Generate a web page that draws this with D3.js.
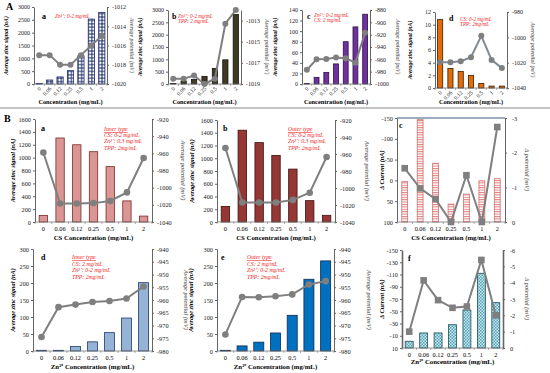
<!DOCTYPE html>
<html>
<head>
<meta charset="utf-8">
<script src="https://cdn.jsdelivr.net/npm/d3@7"></script>
<style>
body { margin: 0; background: #fff; }
svg { display: block; font-family: "Liberation Serif", "Times New Roman", serif; }
</style>
</head>
<body>
<svg width="550" height="373"></svg>
<script>
// categorias (concentração mg/mL)
const conc = ["0", "0.06", "0.12", "0.25", "0.5", "1", "2"];

// linha A
const aaSignal = [25, 155, 275, 520, 1100, 2530, 2790];
const aaPot = [-1017, -1017, -1018, -1018, -1017, -1016, -1015];
const abSignal = [20, 120, 180, 310, 630, 980, 2820];
const abPot = [-1018.5, -1018.5, -1018.2, -1019, -1018.5, -1013.3, -1012];
const acSignal = [1, 12.6, 22, 38, 80, 108, 132];
const acPot = [-977, -960, -959.5, -957, -958.4, -965.4, -916.8];
const adSignal = [10.8, 3.1, 2.6, 2.0, 0.7, 0.3, 0.3];
const adPot = [-1019.6, -1019.6, -1018.9, -1015.7, -998.8, -1017.8, -1024.3];

// linha B
const baSignal = [100, 1305, 1200, 1092, 860, 328, 92];
const baPot = [-959, -1018.5, -1018.5, -1018, -1015.5, -1005.5, -965.5];
const bbSignal = [245, 1440, 1245, 1045, 830, 335, 105];
const bbPot = [-953, -1017, -1017, -1017, -1014, -1005.5, -963.5];
const bcCurrent = [3, -146, -41, 57, 33, 1, -4];
const bcPot = [-1.55, -0.97, -0.66, 0, -1.35, 0, -2.74];
const bdSignal = [2, 2, 13, 27, 54, 97, 201];
const bdPot = [-974.5, -962.8, -961.8, -960.8, -960.4, -959.4, -954.7];
const beSignal = [2, 15, 26, 53, 105, 211, 265];
const bePot = [-973.5, -958.8, -958.9, -958.5, -957.8, -953.9, -952.6];
const bfCurrent = [-1, -14.6, -14.6, -28, -52, -112, -64];
const bfPot = [-1.0, -4.14, -2.93, -2.46, -2.54, -5.39, -2.0];

// ticks
const ticksA12 = [0, 500, 1000, 1500, 2000, 2500, 3000];
const ticksAaR = [-1020, -1018, -1016, -1014, -1012];
const ticksAbR = [-1019, -1017, -1015, -1013];
const ticksAcL = [0, 20, 40, 60, 80, 100, 120, 140];
const ticksAcR = [-1000, -980, -960, -940, -920, -900, -880];
const ticksAdL = [0, 2, 4, 6, 8, 10, 12];
const ticksAdR = [-1040, -1020, -1000, -980];
const ticksBabL = [0, 200, 400, 600, 800, 1000, 1200, 1400, 1600];
const ticksBabR = [-1040, -1020, -1000, -980, -960, -940, -920];
const ticksBcL = [-150, -100, -50, 0, 50, 100];
const ticksBcR = [-3, -2, -1, 0];
const ticksBdeL = [0, 50, 100, 150, 200, 250, 300];
const ticksBdeR = [-980, -975, -970, -965, -960, -955, -950, -945, -940];
const ticksBfL = [-150, -130, -110, -90, -70, -50, -30, -10, 10];
const ticksBfR = [-6, -5, -4, -3, -2, -1, 0];

const svg = d3.select("svg");
const defs = svg.append("defs");

// padrões das barras
const pDots = defs.append("pattern").attr("id", "dotsNavy").attr("patternUnits", "userSpaceOnUse")
  .attr("width", 3.4).attr("height", 3.4);
pDots.append("rect").attr("width", 3.4).attr("height", 3.4).attr("fill", "#1f2f6b");
pDots.append("rect").attr("x", 0.5).attr("y", 0.5).attr("width", 2.4).attr("height", 2.4).attr("fill", "#fff");

const pStripe = defs.append("pattern").attr("id", "stripeRed").attr("patternUnits", "userSpaceOnUse")
  .attr("width", 4).attr("height", 2.4);
pStripe.append("rect").attr("width", 4).attr("height", 2.4).attr("fill", "#fff");
pStripe.append("rect").attr("y", 0).attr("width", 4).attr("height", 1).attr("fill", "#e07c7c");

const pCheck = defs.append("pattern").attr("id", "checkTeal").attr("patternUnits", "userSpaceOnUse")
  .attr("width", 3).attr("height", 3);
pCheck.append("rect").attr("width", 3).attr("height", 3).attr("fill", "#c6e6ee");
pCheck.append("rect").attr("width", 1.5).attr("height", 1.5).attr("fill", "#5aa5b8");
pCheck.append("rect").attr("x", 1.5).attr("y", 1.5).attr("width", 1.5).attr("height", 1.5).attr("fill", "#5aa5b8");

const fmt = d => String(d);

function panel(p) {
  const g = svg.append("g");
  const x = d3.scaleBand().domain(conc).range([p.x0, p.x1]);
  const yl = d3.scaleLinear().domain(p.ld).range([p.y1, p.y0]);
  const yr = d3.scaleLinear().domain(p.rd).range([p.y1, p.y0]);
  const cx = d => x(d) + x.bandwidth() / 2;
  const bw = x.bandwidth() * p.bw;

  if (p.frameTop) {
    g.append("line").attr("x1", p.x0).attr("x2", p.x1).attr("y1", p.y0).attr("y2", p.y0)
      .attr("stroke", p.frameTop).attr("stroke-width", 1.5);
  }

  // barras
  g.selectAll("rect.bar").data(p.bars).enter().append("rect")
    .attr("class", "bar")
    .attr("x", (d, i) => cx(conc[i]) - bw / 2)
    .attr("y", d => Math.min(yl(d), p.y1))
    .attr("width", bw)
    .attr("height", d => Math.abs(p.y1 - yl(d)))
    .attr("fill", p.fill)
    .attr("stroke", p.stroke)
    .attr("stroke-width", 0.8);

  // eixos
  const fs = p.fs;
  const axL = g.append("g").attr("transform", `translate(${p.x0},0)`)
    .call(d3.axisLeft(yl).tickValues(p.lt).tickSize(2).tickSizeOuter(0).tickPadding(2).tickFormat(fmt));
  const axR = g.append("g").attr("transform", `translate(${p.x1},0)`)
    .call(d3.axisRight(yr).tickValues(p.rt).tickSize(2).tickSizeOuter(0).tickPadding(p.rpad || 3).tickFormat(fmt));
  [axL, axR].forEach(a => {
    a.selectAll("text").attr("font-size", fs).attr("font-family", "Liberation Serif").attr("fill", "#222");
    a.selectAll("line").attr("stroke", "#666");
    a.select(".domain").attr("stroke", "#666").attr("stroke-width", p.axW || 1);
  });

  // eixo x
  g.append("line").attr("x1", p.x0).attr("x2", p.x1).attr("y1", p.y1).attr("y2", p.y1)
    .attr("stroke", "#777").attr("stroke-width", 0.8);
  g.selectAll("line.xt").data(d3.range(conc.length + 1)).enter().append("line")
    .attr("x1", i => p.x0 + i * x.bandwidth()).attr("x2", i => p.x0 + i * x.bandwidth())
    .attr("y1", p.y1).attr("y2", p.y1 + 2).attr("stroke", "#777").attr("stroke-width", 0.6);

  if (p.rotX) {
    g.selectAll("text.xl").data(conc).enter().append("text")
      .attr("transform", d => `translate(${cx(d) + 1},${p.y1 + 4}) rotate(-45)`)
      .attr("text-anchor", "end").attr("dy", "0.3em")
      .attr("font-size", fs - 0.5).text(d => d);
  } else {
    g.selectAll("text.xl").data(conc).enter().append("text")
      .attr("x", d => cx(d)).attr("y", p.y1 + 9)
      .attr("text-anchor", "middle").attr("font-size", fs).text(d => d);
  }
  g.append("text").attr("x", (p.x0 + p.x1) / 2).attr("y", p.xty)
    .attr("text-anchor", "middle").attr("font-size", p.tfs + 0.5).attr("font-weight", "bold")
    .text(p.xTitle);

  // títulos y
  const ym = (p.y0 + p.y1) / 2;
  g.append("text").attr("transform", `translate(${p.ltx},${ym}) rotate(-90)`)
    .attr("text-anchor", "middle").attr("dy", "0.35em").attr("font-size", p.tfs)
    .attr("font-weight", "bold").attr("font-style", "italic").text(p.lTitle);
  g.append("text").attr("transform", `translate(${p.rtx},${ym}) rotate(90)`)
    .attr("text-anchor", "middle").attr("dy", "0.35em").attr("font-size", p.tfs)
    .attr("font-weight", "bold").attr("font-style", "italic").attr("fill", "#777").text(p.rTitle);

  // linha de potencial
  const line = d3.line().x((d, i) => cx(conc[i])).y(d => yr(d));
  g.append("path").datum(p.line).attr("d", line).attr("fill", "none")
    .attr("stroke", p.lineColor || "#7f7f7f").attr("stroke-width", p.lw || 2);
  if (p.square) {
    const s = p.mr * 2;
    g.selectAll("rect.mk").data(p.line).enter().append("rect")
      .attr("x", (d, i) => cx(conc[i]) - s / 2).attr("y", d => yr(d) - s / 2)
      .attr("width", s).attr("height", s).attr("fill", "#7f7f7f");
  } else {
    g.selectAll("circle.mk").data(p.line).enter().append("circle")
      .attr("cx", (d, i) => cx(conc[i])).attr("cy", d => yr(d)).attr("r", p.mr)
      .attr("fill", "#7f7f7f");
  }

  // letra do painel e anotação
  g.append("text").attr("x", p.lab[0]).attr("y", p.lab[1]).attr("font-size", p.labFs)
    .attr("font-weight", "bold").text(p.label);
  if (p.notes) {
    p.notes.forEach((t, i) => {
      const tx = g.append("text").attr("x", p.np[0]).attr("y", p.np[1] + i * p.nls)
        .attr("font-size", p.nfs).attr("font-style", "italic").attr("fill", "#ee2222").text(t);
      if (i === 0 && p.underline) tx.attr("text-decoration", "underline");
    });
  }
}

const cA = "Concentration (mg/mL)";
const lT = "Average zinc signal (nA)";
const rT = "Average potential (mV)";

// A-a
panel({x0: 34, x1: 107, y0: 7, y1: 84, ld: [0, 3000], rd: [-1020, -1012], lt: ticksA12, rt: ticksAaR,
  bars: aaSignal, line: aaPot, fill: "url(#dotsNavy)", stroke: "#1f2f6b", bw: 0.6, fs: 6, tfs: 5.8,
  rotX: true, xTitle: cA, xty: 104, lTitle: lT, rTitle: rT, ltx: 6, rtx: 132, mr: 3,
  label: "a", lab: [42, 19], labFs: 8, notes: ["Zn²⁺: 0-2 mg/mL"], np: [55, 18], nfs: 5.2, nls: 5.5});
// A-b
panel({x0: 168, x1: 241, y0: 10, y1: 84, ld: [0, 3000], rd: [-1019, -1012], lt: ticksA12, rt: ticksAbR,
  bars: abSignal, line: abPot, fill: "#3f3b22", stroke: "#111", bw: 0.5, fs: 6, tfs: 5.8,
  rotX: true, xTitle: cA, xty: 104, lTitle: lT, rTitle: rT, ltx: 140, rtx: 267, mr: 3,
  label: "b", lab: [172, 19], labFs: 8, notes: ["Zn²⁺: 0-2 mg/mL", "TPP: 2 mg/mL"], np: [178, 18], nfs: 5.2, nls: 5.2});
// A-c
panel({x0: 302, x1: 370, y0: 10, y1: 84, ld: [0, 140], rd: [-1000, -880], lt: ticksAcL, rt: ticksAcR,
  bars: acSignal, line: acPot, fill: "#7030a0", stroke: "#2a1040", bw: 0.5, fs: 6, tfs: 5.8,
  rotX: true, xTitle: cA, xty: 104, lTitle: lT, rTitle: rT, ltx: 275, rtx: 398, mr: 3,
  label: "c", lab: [307, 19], labFs: 8, notes: ["Zn²⁺: 0-2 mg/mL", "CS: 2 mg/mL"], np: [314, 17], nfs: 5.2, nls: 5.2});
// A-d
panel({x0: 435, x1: 507, y0: 12, y1: 88, ld: [0, 12], rd: [-1040, -980], lt: ticksAdL, rt: ticksAdR,
  bars: adSignal, line: adPot, fill: "#e36c09", stroke: "#3a1c00", bw: 0.5, fs: 6, tfs: 5.8,
  rotX: true, xTitle: cA, xty: 104, lTitle: lT, rTitle: rT, ltx: 410, rtx: 533, mr: 3, lineColor: "#7f8a99",
  label: "d", lab: [449, 21], labFs: 8, notes: ["CS: 0-2 mg/mL", "TPP: 2mg/mL"], np: [460, 21], nfs: 5.2, nls: 5.2});

// divisória
svg.append("line").attr("x1", 0).attr("x2", 550).attr("y1", 108).attr("y2", 108)
  .attr("stroke", "#888").attr("stroke-width", 1);
svg.append("text").attr("x", 6).attr("y", 10).attr("font-size", 10).attr("font-weight", "bold").text("A");
svg.append("text").attr("x", 4).attr("y", 122).attr("font-size", 10).attr("font-weight", "bold").text("B");

const cCS = "CS Concentration (mg/mL)";
const cZn = "Zn²⁺ Concentration (mg/mL)";

// B-a
panel({x0: 35, x1: 152, y0: 119, y1: 222, ld: [0, 1600], rd: [-1040, -920], lt: ticksBabL, rt: ticksBabR,
  bars: baSignal, line: baPot, fill: "#d99694", stroke: "#7a2a28", bw: 0.5, fs: 6.3, tfs: 6.3,
  rotX: false, xTitle: cCS, xty: 240, lTitle: lT, rTitle: rT, ltx: 13, rtx: 183, mr: 3.3,
  label: "a", lab: [41, 131], labFs: 8, underline: true,
  notes: ["Inner type", "CS: 0-2 mg/mL", "Zn²⁺: 0.3 mg/mL", "TPP: 2mg/mL"], np: [104, 131], nfs: 5.8, nls: 6.2});
// B-b
panel({x0: 217, x1: 335, y0: 120, y1: 222, ld: [0, 1600], rd: [-1040, -920], lt: ticksBabL, rt: ticksBabR,
  bars: bbSignal, line: bbPot, fill: "#953735", stroke: "#3d1010", bw: 0.5, fs: 6.3, tfs: 6.3,
  rotX: false, xTitle: cCS, xty: 240, lTitle: lT, rTitle: rT, ltx: 192, rtx: 367, mr: 3.3,
  label: "b", lab: [223, 131], labFs: 8, underline: true,
  notes: ["Outer type", "CS: 0-2 mg/mL", "Zn²⁺: 0.3 mg/mL", "TPP: 2mg/mL"], np: [288, 131], nfs: 5.8, nls: 6.2});
// B-c
panel({x0: 397, x1: 505, y0: 118, y1: 222, ld: [100, -150], rd: [0, -3], lt: ticksBcL, rt: ticksBcR,
  bars: bcCurrent, line: bcPot, fill: "url(#stripeRed)", stroke: "#d07070", bw: 0.38, fs: 6.3, tfs: 6.3,
  rotX: false, xTitle: cCS, xty: 240, lTitle: "Δ Current (nA)", rTitle: "Δ potential (mV)", ltx: 382, rtx: 527,
  mr: 3.3, square: true, frameTop: "#7f90aa", rpad: 5,
  label: "c", lab: [399, 128], labFs: 8});

// B-d
panel({x0: 33, x1: 152, y0: 249, y1: 351, ld: [0, 300], rd: [-980, -940], lt: ticksBdeL, rt: ticksBdeR,
  bars: bdSignal, line: bdPot, fill: "#95b3d7", stroke: "#1f3b66", bw: 0.58, fs: 6.3, tfs: 6.3,
  rotX: false, xTitle: cZn, xty: 369, lTitle: lT, rTitle: rT, ltx: 13, rtx: 186, mr: 3.3,
  label: "d", lab: [41, 260], labFs: 8, underline: true,
  notes: ["Inner type", "CS: 2 mg/mL", "Zn²⁺: 0-2 mg/mL", "TPP: 2mg/mL"], np: [72, 259], nfs: 5.8, nls: 6.6});
// B-e
panel({x0: 217, x1: 334, y0: 249, y1: 351, ld: [0, 300], rd: [-980, -940], lt: ticksBdeL, rt: ticksBdeR,
  bars: beSignal, line: bePot, fill: "#0070c0", stroke: "#0f2a4a", bw: 0.6, fs: 6.3, tfs: 6.3,
  rotX: false, xTitle: cZn, xty: 369, lTitle: lT, rTitle: rT, ltx: 191, rtx: 369, mr: 3.3,
  label: "e", lab: [221, 260], labFs: 8, underline: true,
  notes: ["Outer type", "CS: 2 mg/mL", "Zn²⁺: 0-2 mg/mL", "TPP: 2mg/mL"], np: [247, 259], nfs: 5.8, nls: 6.6});
// B-f
panel({x0: 402, x1: 503, y0: 250, y1: 348, ld: [10, -150], rd: [0, -6], lt: ticksBfL, rt: ticksBfR,
  bars: bfCurrent, line: bfPot, fill: "url(#checkTeal)", stroke: "#1d4f5c", bw: 0.55, fs: 6.3, tfs: 6.3,
  rotX: false, xTitle: cZn, xty: 364, lTitle: "Δ Current (nA)", rTitle: "Δ potential (mV)", ltx: 382, rtx: 527,
  mr: 3.3, square: true, axW: 1.6, rpad: 5,
  label: "f", lab: [408, 261], labFs: 8});
</script>
</body>
</html>
